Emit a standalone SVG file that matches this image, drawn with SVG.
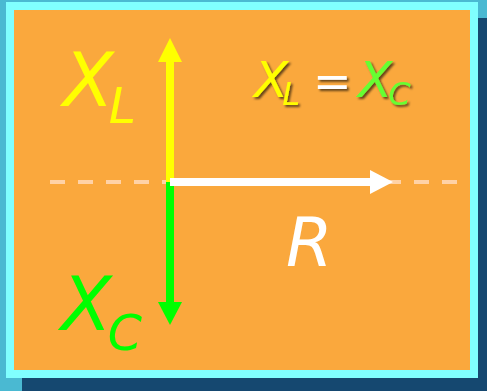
<svg xmlns="http://www.w3.org/2000/svg" width="487" height="391" viewBox="0 0 487 391">
<defs>
<style>
.t{font-family:"DejaVu Sans","Verdana",sans-serif;font-style:italic}
</style>
<filter id="sh" x="-20%" y="-20%" width="150%" height="150%">
<feDropShadow dx="2" dy="2" stdDeviation="1" flood-color="#000" flood-opacity="0.6"/>
</filter>
</defs>
<rect x="0" y="0" width="487" height="391" fill="#4ab9d2"/>
<rect x="22" y="18" width="465" height="373" fill="#154870"/>
<rect x="6" y="2" width="472" height="376" fill="#80ffff"/>
<rect x="14" y="10" width="456" height="360" fill="#faa83d"/>
<g id="connectors">
<line x1="50" y1="182" x2="460" y2="182" stroke="#ffd2a6" stroke-width="4" stroke-dasharray="15 13"/>
<g id="xl-arrow">
<rect x="166" y="60" width="8" height="122" fill="#ffff00"/>
<polygon points="170,38 182,62 158,62" fill="#ffff00"/>
</g>
<g id="xc-arrow">
<rect x="166" y="182" width="8" height="122" fill="#00ff00"/>
<polygon points="170,325 182,302 158,302" fill="#00ff00"/>
</g>
<g id="r-arrow">
<rect x="170" y="178" width="202" height="8" fill="#ffffff"/>
<polygon points="393,182 370,170 370,194" fill="#ffffff"/>
</g>
</g>
<g id="label-xl" class="t" fill="#ffff00">
<text x="63" y="106" font-size="74">X<tspan font-size="49" dx="-5" dy="17">L</tspan></text>
</g>
<g id="label-xc" class="t" fill="#00ff00">
<text x="61" y="330" font-size="74">X<tspan font-size="49" dx="-4" dy="20">C</tspan></text>
</g>
<g id="label-r" class="t" fill="#ffffff">
<text x="286" y="266" font-size="67">R</text>
</g>
<g id="equation" class="t" filter="url(#sh)">
<text x="254" y="97" font-size="50" fill="#ffff00">X<tspan font-size="32" dx="-6" dy="8">L</tspan></text>
<text x="313" y="97" font-size="46" fill="#ffffff">=</text>
<text x="358" y="97" font-size="50" fill="#66ff33">X<tspan font-size="32" dx="-4" dy="8">C</tspan></text>
</g>
</svg>
